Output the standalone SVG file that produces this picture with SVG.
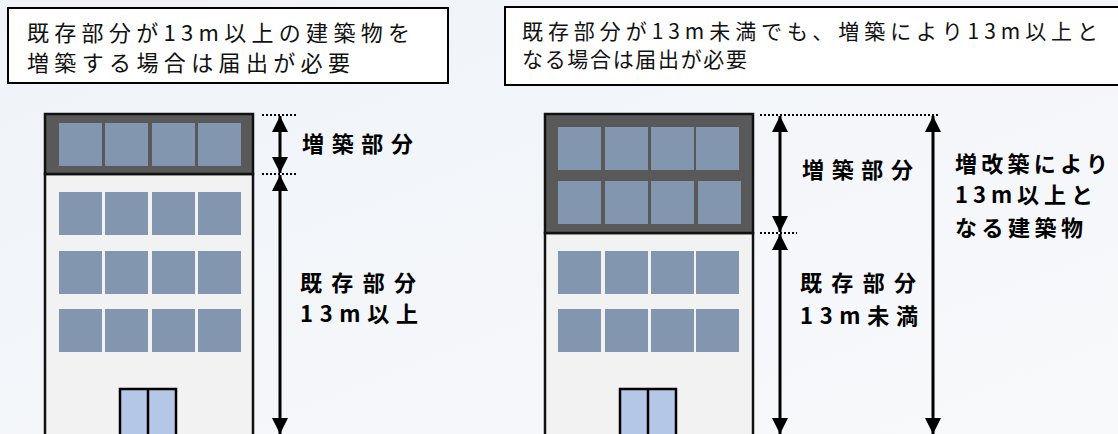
<svg xmlns="http://www.w3.org/2000/svg" width="1118" height="434" viewBox="0 0 1118 434">
  <defs>
    <linearGradient id="bg" x1="0" y1="0" x2="1" y2="1">
      <stop offset="0" stop-color="#eff3f8"/>
      <stop offset="1" stop-color="#f8f9fb"/>
    </linearGradient>
    <marker id="head" viewBox="0 0 16 16" refX="16" refY="8" markerWidth="16" markerHeight="16" markerUnits="userSpaceOnUse" orient="auto-start-reverse">
      <path d="M0,0 L16,8 L0,16 Z" fill="#000"/>
    </marker>
    <style>
      .note { fill: #fff; stroke: #000; stroke-width: 2; }
      .noteText { font-family: "Noto Sans CJK JP", "Liberation Sans", sans-serif; font-size: 22px; fill: #111; }
      .noteTextR { font-family: "Noto Sans CJK JP", "Liberation Sans", sans-serif; font-size: 21px; fill: #111; }
      .label { font-family: "Noto Sans CJK JP", "Liberation Sans", sans-serif; font-size: 22px; font-weight: 700; fill: #000; }
      .body { fill: #f2f2f2; stroke: #111; stroke-width: 2.5; }
      .roof { fill: #595959; stroke: #111; stroke-width: 2.5; }
      .win { fill: #8296b0; }
      .door { fill: #b4c7e7; stroke: #000; stroke-width: 2.5; }
      .dim { stroke: #000; stroke-width: 3; fill: none; }
      .guide { stroke: #000; stroke-width: 2; stroke-dasharray: 2 2; fill: none; }
    </style>
  </defs>

  <rect width="1118" height="434" fill="url(#bg)"/>

  <!-- explanatory notes -->
  <g id="note-left">
    <rect class="note" x="8" y="8" width="440" height="75"/>
    <text class="noteText">
      <tspan x="27" y="41" textLength="383" lengthAdjust="spacing">既存部分が13m以上の建築物を</tspan>
      <tspan x="27" y="71" textLength="323" lengthAdjust="spacing">増築する場合は届出が必要</tspan>
    </text>
  </g>
  <g id="note-right">
    <rect class="note" x="505" y="7" width="620" height="78"/>
    <text class="noteTextR">
      <tspan x="522" y="39" textLength="576" lengthAdjust="spacing">既存部分が13m未満でも、増築により13m以上と</tspan>
      <tspan x="522" y="67" textLength="225" lengthAdjust="spacing">なる場合は届出が必要</tspan>
    </text>
  </g>

  <!-- building A: existing part already 13m or more -->
  <g id="building-left">
    <rect class="body" x="45" y="174" width="208" height="270"/>
    <rect class="roof" x="45" y="114" width="208" height="60"/>
    <g class="win">
      <rect x="59" y="123" width="43" height="43"/>
      <rect x="105" y="123" width="43" height="43"/>
      <rect x="152" y="123" width="43" height="43"/>
      <rect x="198" y="123" width="43" height="43"/>
      <rect x="59" y="192" width="43" height="43"/>
      <rect x="105" y="192" width="43" height="43"/>
      <rect x="152" y="192" width="43" height="43"/>
      <rect x="198" y="192" width="43" height="43"/>
      <rect x="59" y="251" width="43" height="43"/>
      <rect x="105" y="251" width="43" height="43"/>
      <rect x="152" y="251" width="43" height="43"/>
      <rect x="198" y="251" width="43" height="43"/>
      <rect x="59" y="309" width="43" height="43"/>
      <rect x="105" y="309" width="43" height="43"/>
      <rect x="152" y="309" width="43" height="43"/>
      <rect x="198" y="309" width="43" height="43"/>
    </g>
    <rect class="door" x="120" y="389" width="56" height="60"/>
    <line x1="148" y1="389" x2="148" y2="440" stroke="#000" stroke-width="2.5"/>
  </g>

  <!-- building B: existing part under 13m -->
  <g id="building-right">
    <rect class="body" x="545" y="233" width="208" height="211"/>
    <rect class="roof" x="545" y="114" width="208" height="119"/>
    <g class="win">
      <rect x="558" y="127" width="43" height="43"/>
      <rect x="605" y="127" width="43" height="43"/>
      <rect x="651" y="127" width="43" height="43"/>
      <rect x="696" y="127" width="43" height="43"/>
      <rect x="558" y="181" width="43" height="43"/>
      <rect x="605" y="181" width="43" height="43"/>
      <rect x="651" y="181" width="43" height="43"/>
      <rect x="698" y="181" width="43" height="43"/>
      <rect x="558" y="251" width="43" height="43"/>
      <rect x="605" y="251" width="43" height="43"/>
      <rect x="651" y="251" width="43" height="43"/>
      <rect x="696" y="251" width="43" height="43"/>
      <rect x="558" y="309" width="43" height="43"/>
      <rect x="605" y="309" width="43" height="43"/>
      <rect x="651" y="309" width="43" height="43"/>
      <rect x="696" y="309" width="43" height="43"/>
    </g>
    <rect class="door" x="620" y="389" width="56" height="60"/>
    <line x1="648" y1="389" x2="648" y2="440" stroke="#000" stroke-width="2.5"/>
  </g>

  <!-- dimension lines -->
  <g id="connectors">
    <line class="guide" x1="262" y1="115" x2="297" y2="115"/>
    <line class="guide" x1="262" y1="174" x2="297" y2="174"/>
    <line class="dim" x1="280" y1="116" x2="280" y2="173" marker-start="url(#head)" marker-end="url(#head)"/>
    <line class="dim" x1="280" y1="175" x2="280" y2="434" marker-start="url(#head)" marker-end="url(#head)"/>

    <line class="guide" x1="760" y1="115" x2="940" y2="115"/>
    <line class="guide" x1="760" y1="233" x2="797" y2="233"/>
    <line class="dim" x1="780" y1="116" x2="780" y2="232" marker-start="url(#head)" marker-end="url(#head)"/>
    <line class="dim" x1="780" y1="234" x2="780" y2="434" marker-start="url(#head)" marker-end="url(#head)"/>
    <line class="dim" x1="933" y1="116" x2="933" y2="434" marker-start="url(#head)" marker-end="url(#head)"/>
  </g>

  <!-- dimension labels -->
  <g id="labels-left">
    <text class="label" x="302" y="152" textLength="111" lengthAdjust="spacing">増築部分</text>
    <text class="label">
      <tspan x="300" y="291" textLength="116" lengthAdjust="spacing">既存部分</tspan>
      <tspan x="300" y="322" textLength="118" lengthAdjust="spacing">13m以上</tspan>
    </text>
  </g>
  <g id="labels-right">
    <text class="label" x="802" y="178" textLength="111" lengthAdjust="spacing">増築部分</text>
    <text class="label">
      <tspan x="800" y="291" textLength="116" lengthAdjust="spacing">既存部分</tspan>
      <tspan x="800" y="324" textLength="118" lengthAdjust="spacing">13m未満</tspan>
    </text>
    <text class="label">
      <tspan x="955" y="172" textLength="153" lengthAdjust="spacing">増改築により</tspan>
      <tspan x="955" y="203" textLength="138" lengthAdjust="spacing">13m以上と</tspan>
      <tspan x="955" y="236" textLength="128" lengthAdjust="spacing">なる建築物</tspan>
    </text>
  </g>
</svg>
